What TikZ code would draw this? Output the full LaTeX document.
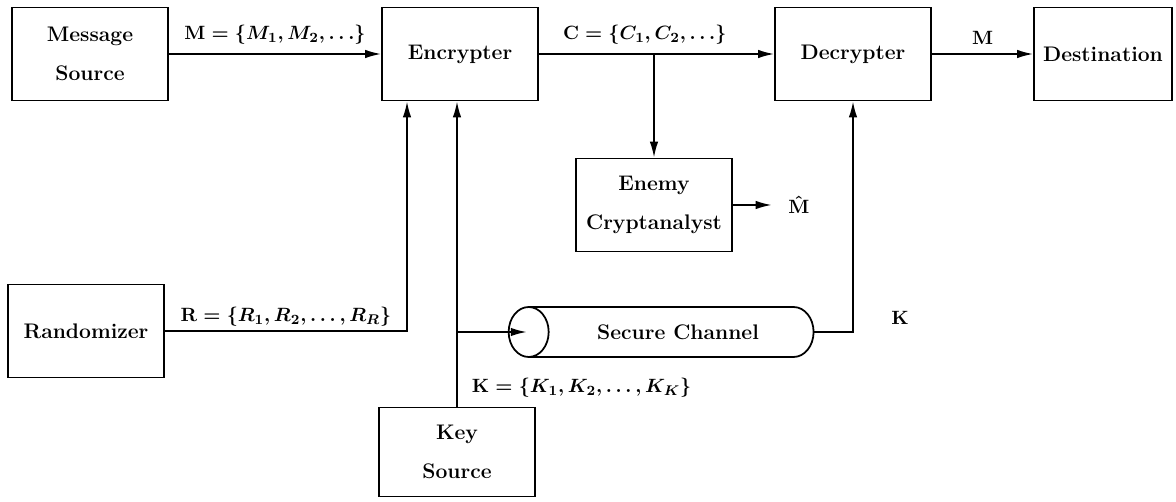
\documentclass[tikz,border=0pt]{standalone}
\usetikzlibrary{arrows.meta,positioning,calc,shapes.geometric}

\begin{document}
\begin{tikzpicture}[x=0.02cm,y=-0.02cm,line width=1pt,
    font=\fontsize{12}{22}\selectfont\bfseries]
  \tikzset{blk/.style={draw,minimum width=3.12cm,minimum height=1.86cm,align=center,inner sep=1pt},
    lbl/.style={font=\fontsize{11}{13}\selectfont\boldmath,inner sep=2pt},
    arr/.style={-{Latex[length=3.2mm,width=1.7mm]}}}
  \useasboundingbox (0,0) rectangle (1176,502);
  % boxes
  \node[blk] (msg) at (90,54) {Message\\Source};
  \node[blk] (enc) at (460,54) {Encrypter};
  \node[blk] (dec) at (853,54) {Decrypter};
  \node[blk,minimum width=2.76cm] (dst) at (1103,54) {Destination};
  \node[blk] (eny) at (654,205) {Enemy\\Cryptanalyst};
  \node[blk] (rnd) at (86,331) {Randomizer};
  \node[blk,minimum height=1.78cm] (key) at (457,452) {Key\\Source};
  \node[draw,cylinder,shape border rotate=180,aspect=1.5,minimum width=1.0cm,
    minimum height=6.1cm] (chan) at (678,332) {Secure Channel};
  \node[lbl,anchor=west] (mhat) at (784,205) {$\hat{\mathbf{M}}$};
  \node[lbl] (kdec) at (900,318) {$\mathbf{K}$};
  % connectors
  \draw[arr] (msg) -- node[lbl,above=3pt] {$\mathbf{M}=\{M_1,M_2,\ldots\}$} (enc);
  \draw[arr] (enc) -- node[lbl,above=3pt,pos=0.45] {$\mathbf{C}=\{C_1,C_2,\ldots\}$} (dec);
  \draw[arr] (dec) -- node[lbl,above=3pt] {$\mathbf{M}$} (dst);
  \draw[arr] (eny.north |- enc.east) -- (eny.north);
  \draw[arr] (eny.east) -- ([xshift=-7pt]mhat.west);
  \draw[arr] (rnd.east) -| node[lbl,above,pos=0.25] {$\mathbf{R}=\{R_1,R_2,\ldots,R_R\}$}
    ([xshift=-1.06cm]enc.south);
  \draw[arr] (key.north) -- node[lbl,pos=0,anchor=south west,xshift=6pt,yshift=3pt]
    {$\mathbf{K}=\{K_1,K_2,\ldots,K_K\}$} (key.north |- enc.south);
  \draw[arr] (key.north |- chan) -- ([xshift=0.38cm]chan.west);
  \draw[arr] (chan.east) -| (dec.south);
\end{tikzpicture}
\end{document}
